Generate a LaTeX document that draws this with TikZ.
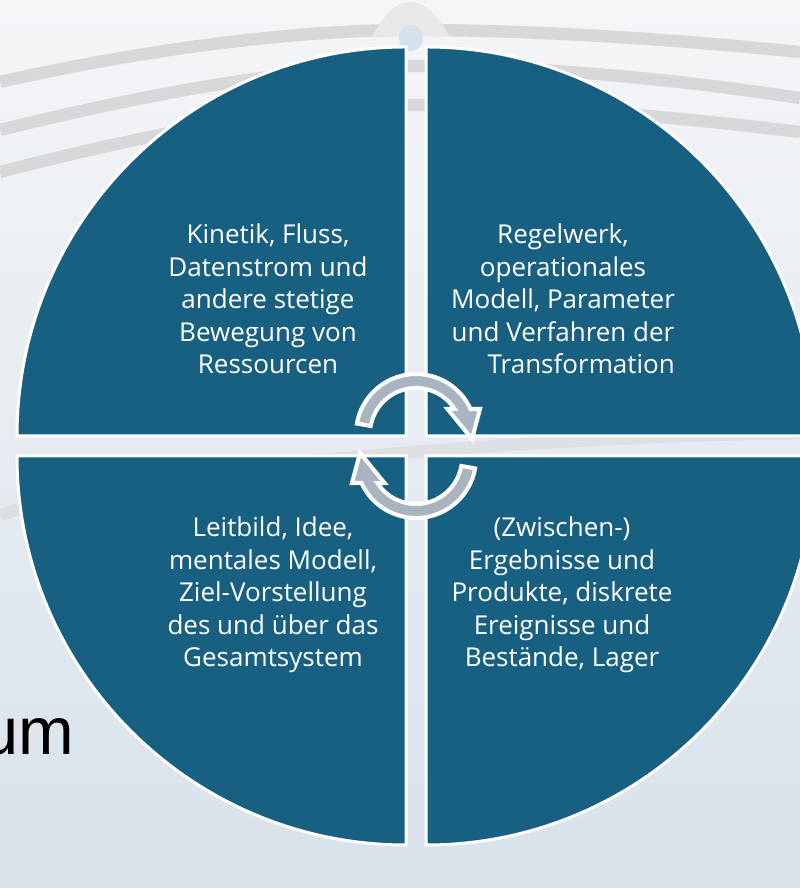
\documentclass[tikz,border=0pt]{standalone}
\usepackage{fontspec}
\setmainfont{Open Sans}
\newfontfamily\umfont{Liberation Sans}

\definecolor{kreisblau}{RGB}{24,96,130}
\definecolor{pfeilgrau}{RGB}{168,180,192}
\definecolor{wellengrau}{RGB}{216,216,218}
\definecolor{himmeloben}{RGB}{244,245,247}
\definecolor{himmelmitte}{RGB}{238,241,244}
\definecolor{himmelunten}{RGB}{216,226,235}
\definecolor{tropfenblau}{RGB}{212,226,238}

\begin{document}
\begin{tikzpicture}[x=0.02cm, y=0.02cm,
    quad/.style={fill=kreisblau, draw=white, line width=1.7pt},
    pfeil/.style={fill=pfeilgrau, draw=white, line width=2.3pt},
    welle/.style={draw=wellengrau, line width=7pt},
    beschriftung/.style={text=white, align=center,
        font=\fontsize{14.8}{18.5}\selectfont}]

    % パラメータの定義
    \pgfmathsetmacro{\W}{800}
    \pgfmathsetmacro{\H}{888}
    \pgfmathsetmacro{\R}{389}
    \pgfmathsetmacro{\g}{10}
    \pgfmathsetmacro{\cx}{416}
    \pgfmathsetmacro{\cy}{442}

    % 点の定義
    \coordinate (M) at (\cx,\cy);
    \coordinate (KL) at (268,589);
    \coordinate (KR) at (563,589);
    \coordinate (UL) at (273,293);
    \coordinate (UR) at (562,293);

    \useasboundingbox (0,0) rectangle (\W,\H);
    \clip (0,0) rectangle (\W,\H);

    % 背景
    \shade[top color=himmeloben, middle color=himmelmitte, bottom color=himmelunten]
        (0,0) rectangle (\W,\H);
    \draw[welle] (0,806) .. controls (150,840) and (300,858) .. (410,858)
        .. controls (540,858) and (680,848) .. (800,836);
    \draw[welle] (0,758) .. controls (150,795) and (300,822) .. (410,822)
        .. controls (560,822) and (700,805) .. (800,790);
    \draw[welle] (0,716) .. controls (150,755) and (300,783) .. (410,783)
        .. controls (560,783) and (700,768) .. (800,756);
    \draw[welle, draw opacity=0.6] (0,373) .. controls (150,420) and (500,450) .. (800,455);
    \fill[gray!18] (372,852) .. controls (385,873) and (395,886) .. (410,886)
        .. controls (425,886) and (438,873) .. (449,852) -- cycle;
    \fill[tropfenblau] (411,850) ellipse (12 and 13);

    % 四分円の描画
    \foreach \a/\sx/\sy in {0/1/1, 90/-1/1, 180/-1/-1, 270/1/-1} {
        \filldraw[quad] ({\cx+\sx*\g},{\cy+\sy*\g}) -- ++(\a:\R)
            arc (\a:\a+90:\R) -- cycle;
    }

    % 矢印の描画
    \foreach \r in {0,180} {
        \begin{scope}[shift={(M)}, rotate=\r, shift={(0,12)}]
            \filldraw[pfeil] (170:60) arc (170:24.6:60) -- (64,25) -- (56,-5)
                -- (31.5,25) -- (33:46) arc (33:170:46) -- cycle;
        \end{scope}
    }

    % 文字の描画
    \node (kinetik) at (KL) [beschriftung]
        {Kinetik, Fluss,\\Datenstrom und\\andere stetige\\Bewegung von\\Ressourcen};
    \node (regelwerk) at (KR) [beschriftung]
        {Regelwerk,\\operationales\\Modell, Parameter\\und Verfahren der\\\hspace*{1.4em}Transformation};
    \node (leitbild) at (UL) [beschriftung]
        {Leitbild, Idee,\\mentales Modell,\\Ziel-Vorstellung\\des und über das\\Gesamtsystem};
    \node (ergebnisse) at (UR) [beschriftung]
        {(Zwischen-)\\Ergebnisse und\\Produkte, diskrete\\Ereignisse und\\Bestände, Lager};
    \node (um) at (80,133) [anchor=base east, font=\umfont\fontsize{38}{40}\selectfont] {um};

\end{tikzpicture}
\end{document}
